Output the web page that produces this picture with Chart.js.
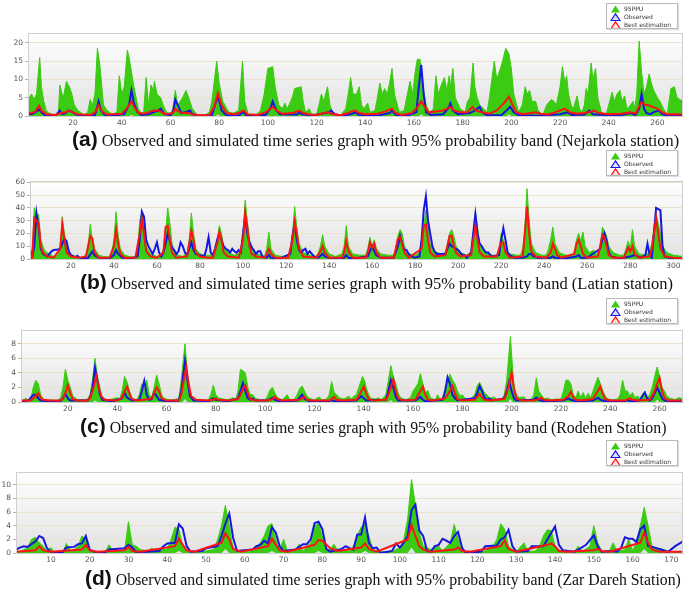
<!DOCTYPE html>
<html>
<head>
<meta charset="utf-8">
<script src="https://cdn.jsdelivr.net/npm/chart.js@4.4.0/dist/chart.umd.min.js"></script>
<style>
body{margin:0;background:#fff;width:685px;height:590px;position:relative;overflow:hidden}
canvas{position:absolute;left:0}
.cap{position:absolute;white-space:nowrap;line-height:22px;font-family:'Liberation Serif','Times New Roman',serif;font-size:16.4px;color:#111}
.cap b{font-family:'Liberation Sans',Arial,sans-serif;font-size:21px;margin-right:4px}
.leg{position:absolute;left:606px;width:72px;height:26px;border:1px solid #b8b8b8;background:#fff;font-family:'DejaVu Sans',sans-serif;font-size:6px;color:#333;padding:1px 3px;box-sizing:border-box;box-shadow:1px 1px 1px #ddd;white-space:nowrap;overflow:hidden}
.leg div{height:8px;line-height:8px;display:flex;align-items:center}
.leg svg{width:11px;height:8px;margin-right:3px;flex:none}
</style>
</head>
<body>
<canvas id="ca" width="685" height="100" style="top:30px"></canvas>
<canvas id="cb" width="685" height="95" style="top:178px"></canvas>
<canvas id="cc" width="685" height="89" style="top:327px"></canvas>
<canvas id="cd" width="685" height="98" style="top:469px"></canvas>
<script>
const seriesNames = ['95PPU', 'Observed', 'Best estimation'];
const captionText = 'Observed and simulated time series graph with 95% probability band';
const stations = ['(Nejarkola station)', '(Latian station)', '(Rodehen Station)', '(Zar Dareh Station)'];

// x tick labels
const aTicksX = [20,40,60,80,100,120,140,160,180,200,220,240,260];
const bTicksX = [20,40,60,80,100,120,140,160,180,200,220,240,260,280,300];
const cTicksX = [20,40,60,80,100,120,140,160,180,200,220,240,260];
const dTicksX = [10,20,30,40,50,60,70,80,90,100,110,120,130,140,150,160,170];
// y tick labels
const aTicksY = [0,5,10,15,20];
const bTicksY = [0,10,20,30,40,50,60];
const cTicksY = [0,2,4,6,8];
const dTicksY = [0,2,4,6,8,10];

// (a) Nejarkola: [time step, value]
const aUpper = [[1.5,1],[2,5],[3,6],[4,4.5],[5,6],[6.3,16],[7,8],[8,4],[9,1.5],[10,0.8],[12,0.3],[14,1],[14.6,8.5],[15.5,6],[16,5],[17.3,9.5],[18,8.5],[18.5,8],[19.5,6],[20.5,3],[22,1.5],[24.5,0.3],[26,1],[27,4.5],[28,3],[29,6],[30,18.5],[31,14],[32.5,3],[34,1.5],[36,0.5],[38,1],[39,11],[40,6],[41,8],[42.3,18],[43,16],[44,12],[45,8],[46.8,2],[48,0.8],[49,1],[50,10.5],[51,3],[52,8.5],[53,7],[53.4,9.5],[54.5,6],[56,5],[57,3],[58.4,1],[60,0.5],[61,2],[62,7],[63,3],[64,4],[65,5],[66.4,7],[67.5,5],[69,2],[71,0.3],[74,0.2],[76,1],[77,4],[79,15],[80,9],[81.5,4],[84,1],[86,0.8],[88,1.5],[89.6,15],[90.5,4],[92,0.3],[95,0.3],[97,1.5],[98.5,6],[100,13],[102,13.5],[103,8],[104.5,3],[106,2],[107,3.5],[108,2],[110,5],[111,7.5],[113.7,8],[114.5,4],[115.5,1],[117,2],[118,0.5],[120,0.5],[121,3],[122,6],[123,4],[124.5,8],[125.5,3],[127,0.3],[130,0.3],[132,2],[133,6],[134,10.5],[135,6],[136.5,6],[137.5,8],[138.5,3],[139.5,2],[141,3.5],[142,1],[144,1.5],[145,5],[146,9],[147,6],[148,7.5],[149,6],[150,9],[151,13],[152,6],[154,1],[156,1.5],[157,5],[158.4,9.5],[159.5,6],[160.5,12],[161.4,15.5],[162.5,15.5],[163.5,9],[165,3],[166.4,1],[168,2],[169,11],[170,6],[171,8],[172.5,10.5],[173.5,7],[174.5,11],[175,8],[176,13],[177,5],[179,2],[181,1],[182,4],[183,5],[184.3,14.5],[185,8],[186,5],[187,3],[188.7,2],[190,1],[191,5],[193,15],[194,10],[196,14],[197.7,18.5],[199,17],[200,13],[201,6],[203,1],[204.5,3],[205.7,8],[206.5,6],[207.5,7],[208.5,4],[210,4],[211,1.5],[213,0.3],[214.5,3],[216.4,4.5],[217.5,4],[218.5,3],[220,8],[221,13.5],[222,9],[222.7,11],[223.5,6],[224.5,3],[225.5,2],[227,5.5],[228,2],[229,1],[230,3],[230.7,7.5],[231.5,6],[232.8,14.5],[233.5,10],[234.6,13],[235.5,5],[237,1],[239,0.5],[240,3],[241.4,6.5],[242.3,4],[243.4,6],[244.6,7],[245.5,4],[246.5,5.5],[247.5,2],[249,3],[250,4],[250.7,2],[251.5,6],[252.5,20.5],[253.5,12],[254.5,6],[255.5,8],[256.6,11.5],[257.5,9],[258.5,7],[260,5],[261,4],[262.5,2],[264,0.3],[265,5],[265.5,7.5],[267,8],[268,5],[270.5,4]];
const aLower = [[1.5,0],[43,0],[44,0.3],[45,0],[78.5,0],[79.5,0.4],[80.5,0],[162,0],[163,0.4],[164,0],[198,0],[199,0.4],[200,0],[270.5,0]];
const aObs = [[1.5,0.6],[3,0.5],[4.5,1],[6,1.8],[7,1],[8.5,0.2],[13,0.1],[14.5,1.5],[15.5,0.5],[17,0.8],[18,1.5],[19.5,1.2],[21,0.5],[23,0.1],[29,0.2],[30.5,4],[31.5,1.5],[33,0.3],[36,0.1],[41,0.5],[43,3],[44,7],[45,3.5],[46.5,1],[48,0.3],[51,0.5],[53,1],[55,1.5],[56,2],[57.5,0.5],[60,0.2],[61,1],[62,4.5],[63,3],[64.5,0.8],[66,1],[68,1.5],[69,0.5],[71,0.1],[77,0.2],[79.5,5.5],[81,1.5],[83,0.2],[88,0.1],[90,1.2],[91,0.3],[99,0.3],[101,2],[102,4],[103.5,1.5],[105,0.5],[112,0.4],[113,1],[114,0.5],[118,0.1],[122,0.6],[125,1],[126,1.5],[127.5,0.5],[130,0.1],[134,0.5],[136,1],[137.5,0.3],[145,0.1],[150,0.8],[151,1.5],[152.5,0.3],[157,0.1],[161,1],[162,8],[163,14],[164,6],[165,1],[167,0.3],[172,0.5],[174,2],[175,3.5],[176,1.5],[178,0.5],[183,0.8],[185,1.5],[187,2.5],[188,1],[190,0.2],[196,0.3],[198,1.5],[199.5,2.5],[201,1],[203,0.2],[212,0.1],[220,0.5],[222,0.8],[223,1],[225,0.3],[230,0.4],[232,1.5],[233.5,0.5],[240,0.2],[245,0.3],[249,0.8],[251,0.3],[252.5,2],[253.5,6],[254.5,2],[255.5,0.8],[257,0.5],[259,1.2],[260.5,1.5],[262,0.5],[264,0.1],[268,0.2],[270.5,0.2]];
const aBest = [[1.5,0.9],[3,0.8],[4.5,1.2],[6,2.8],[7,1.5],[9,0.5],[13,0.3],[15,0.8],[17,1],[18,1.5],[20,1],[22,0.5],[27,0.3],[29,1],[30.5,3],[32,1.2],[34,0.4],[40,0.6],[42,2],[44,4],[45.5,2],[47,0.8],[49,0.6],[51,1],[53,1.5],[55,1.5],[56.5,1],[58,0.5],[61,0.8],[62,2],[63,1.3],[65,0.8],[67,0.9],[69,0.5],[72,0.2],[76,0.3],[78,2.5],[79.5,6.3],[81,3],[83,0.8],[86,0.5],[88,0.8],[90,1.5],[91.5,0.5],[96,0.3],[99,1],[101,2],[102,2.5],[103.5,1.5],[106,0.6],[110,0.8],[113,1.5],[114.5,0.8],[117,0.4],[120,0.3],[123,0.8],[125,1],[126,0.6],[130,0.2],[133,0.8],[134,1.2],[136,1.5],[137.5,0.8],[140,0.5],[145,0.6],[148,1.2],[151,2],[152.5,0.8],[155,0.3],[159,0.8],[161,2],[163,4],[164.5,2.5],[166,1],[169,1.2],[172,1.5],[175,2.5],[176.5,1.5],[179,1],[182,1],[184,2.5],[185.5,1.5],[188,1],[191,0.6],[194,1.5],[197,3.5],[199,5.3],[200.5,3],[202,1],[205,0.5],[208,0.8],[210,1],[212,0.6],[215,0.4],[218,1],[220,1.5],[222,2],[224,1],[227,0.6],[230,0.8],[233,1.2],[234,1.5],[236,0.8],[240,0.5],[245,0.6],[249,1],[251,0.7],[253.5,3.8],[255,3],[256,3],[258,2.5],[260,2],[262,1],[264,0.5],[268,0.5],[270.5,0.4]];

// (b) Latian
const bUpper = [[1,7],[2,3],[3,40],[4,30],[5,35],[6,15],[7,10],[8,6],[10,4],[12,2],[14,3],[15,8],[16,33],[17,20],[18,10],[20,4],[22,2],[25,1],[27,3],[28,10],[29,27],[30,15],[31,8],[33,3],[35,2],[38,1.5],[39,5],[40,15],[41,37],[42,18],[43,8],[45,3],[48,1.5],[50,2],[51,8],[52,30],[53,37],[54,25],[55,10],[57,4],[60,2],[62,3],[63,8],[64,20],[65,40],[66,28],[67,12],[68,6],[70,3],[72,2],[74,5],[75,15],[76,36],[77,20],[78,8],[80,4],[83,3],[86,3],[87,6],[88,15],[89,26],[90,20],[91,10],[93,5],[96,3],[99,5],[100,20],[101,46],[102,30],[103,15],[105,6],[108,3],[110,2],[111,8],[112,21],[113,8],[115,3],[118,2],[121,3],[122,8],[123,20],[124,41],[125,25],[126,12],[128,5],[131,3],[134,2],[135,5],[136,10],[137,19],[138,10],[140,4],[143,2],[146,4],[147,10],[148,26],[149,10],[151,4],[154,3],[157,3],[158,8],[159,17],[160,10],[161,15],[162,8],[164,4],[167,3],[170,3],[171,8],[172,18],[173,23],[174,20],[175,10],[177,4],[180,3],[182,5],[183,15],[184,25],[185,38],[186,25],[187,12],[189,6],[192,4],[194,5],[195,12],[196,20],[197,23],[198,18],[199,10],[201,5],[204,3],[206,6],[207,20],[208,37],[209,25],[210,12],[212,6],[215,3],[218,3],[219,8],[220,20],[221,15],[222,8],[224,4],[227,3],[229,3],[230,8],[231,25],[232,55],[233,30],[234,12],[236,5],[239,3],[241,3],[242,8],[243,15],[244,25],[245,12],[247,5],[250,3],[253,3],[254,6],[255,15],[256,20],[257,14],[258,21],[259,10],[261,5],[263,7],[264,3],[266,8],[267,25],[268,22],[269,18],[270,10],[272,5],[275,3],[277,3],[278,8],[279,14],[280,8],[281,23],[282,10],[284,4],[287,3],[289,6],[290,12],[291,25],[292,35],[293,28],[294,20],[295,10],[297,5],[300,3],[304.5,2]];
const bLower = [[1,0],[304.5,0]];
const bObs = [[1,8],[2,1],[3,10],[4,36],[5,25],[6,8],[7,4],[9,2],[10,4],[11,6],[12,7],[14,7.5],[15,8],[16,12],[17,16],[18,14],[19,6],[20,3],[22,1.5],[23,2.5],[24,1],[26,0.5],[28,1],[30,6],[31,3],[33,1],[38,0.5],[40,3],[41,7],[42,4],[44,1],[48,0.5],[51,2],[52,15],[53,37],[54,33],[55,15],[56,10],[58,4],[59,8],[60,13],[61,5],[62,2],[63,5],[64,12],[65,20],[66,14],[67,9],[68,7],[69,4],[70,6],[71,13],[72,10],[73,5],[74,3],[75,8],[76,13],[77,7],[78,4],[80,3],[82,2],[83,8],[84,17],[85,5],[86,3],[87,8],[88,15],[89,20],[90,15],[91,10],[92,8],[93,7],[94,5],[95,8],[96,6],[97,5],[98,7],[99,5],[100,20],[101,33],[102,20],[103,13],[104,9],[105,7],[106,4],[107,6],[108,6],[109,2],[111,1],[112,3],[113,1],[116,0.5],[118,1],[122,4],[123,18],[124,28],[125,15],[126,7],[127,5],[128,7],[129,8],[130,4],[131,6],[132,4],[133,2],[135,1],[137,4],[138,2],[140,1],[145,0.5],[147,1],[148,3],[149,1],[152,0.5],[158,2],[160,10],[161,6],[162,3],[164,1],[170,1],[172,10],[173,18],[174,12],[175,7],[176,7],[177,4],[178,2],[180,1],[182,2],[183,15],[184,38],[185,49],[186,30],[187,20],[188,10],[189,6],[190,4],[192,4],[194,4],[195,8],[196,12],[197,10],[198,9],[199,8],[200,7],[201,5],[202,3],[203,3],[204,1],[206,5],[207,20],[208,35],[209,20],[210,12],[211,10],[212,7],[213,5],[214,5],[215,3],[216,2],[219,3],[220,15],[221,24],[222,15],[223,5],[224,3],[226,1],[230,1],[232,2],[233,4],[234,4],[235,2],[237,1],[243,1],[244,2],[245,1],[250,0.5],[255,2],[256,3],[257,1],[260,1],[266,8],[267,15],[268,20],[269,14],[270,5],[271,2],[275,0.5],[280,2],[282,3],[285,1],[287,3],[288,12],[289,3],[290,1],[291,20],[292,40],[293,39],[294,38],[295,10],[296,2],[298,1],[304.5,0.5]];
const bBest = [[1,3],[2,1],[3,32],[4,30],[5,28],[6,10],[7,5],[9,2],[12,1],[15,8],[16,27],[17,15],[18,5],[20,2],[24,1],[27,2],[28,10],[29,18],[30,16],[31,5],[33,1],[38,1],[40,10],[41,23],[42,12],[43,4],[45,1],[50,1],[52,20],[53,31],[54,20],[55,6],[57,2],[60,1],[63,5],[64,25],[65,26],[66,15],[67,5],[69,1],[74,2],[75,12],[76,22],[77,15],[78,5],[80,2],[84,1],[86,1],[88,12],[89,21],[90,15],[91,5],[93,2],[98,1],[100,15],[101,36],[102,25],[103,10],[104,4],[106,2],[110,1],[111,4],[112,8],[113,4],[115,1],[121,1],[123,15],[124,29],[125,20],[126,8],[128,2],[134,1],[136,6],[137,10],[138,5],[140,1],[146,1],[147,5],[148,14],[149,6],[151,1],[157,1],[158,5],[159,13],[160,9],[161,12],[162,5],[164,1],[170,1],[171,8],[172,16],[173,17],[174,12],[175,5],[177,1],[183,8],[184,26],[185,27],[186,15],[187,5],[189,2],[194,3],[195,10],[196,18],[197,18],[198,10],[199,5],[201,2],[206,3],[207,15],[208,26],[209,15],[210,5],[212,2],[218,2],[219,8],[220,13],[221,13],[222,5],[224,1],[230,2],[231,20],[232,41],[233,20],[234,6],[236,2],[241,1],[243,5],[244,12],[245,8],[246,3],[248,1],[254,4],[255,12],[256,15],[257,10],[258,4],[260,1],[265,2],[266,10],[267,19],[268,17],[269,10],[270,3],[272,1],[277,1],[278,5],[279,9],[280,6],[281,10],[282,4],[284,1],[289,2],[290,8],[291,20],[292,32],[293,20],[294,8],[296,2],[300,1],[304.5,0.5]];

// (c) Rodehen
const cUpper = [[1,0.2],[2,0.3],[3,0.5],[4,0.2],[5,0.5],[6,2],[7,3],[8,2.5],[9,1],[10,0.4],[12,0.2],[14,0.3],[15,0.1],[17,0.5],[18,2],[19,4.5],[20,3],[21,2],[22,0.8],[24,0.3],[26,0.3],[28,0.4],[29,1],[30,3],[31,6],[32,3.5],[33,2],[34,0.6],[36,0.3],[38,0.4],[39,0.5],[40,0.6],[41,0.4],[42,1.5],[43,3.5],[44,2.8],[45,1.5],[46,0.5],[48,0.3],[49,1],[50,2.5],[51,1.5],[52,3],[53,1],[54,0.6],[55,2],[56,3.7],[57,2.5],[58,1],[59,0.5],[61,0.3],[63,0.3],[65,0.5],[66,3],[67.5,8],[68.5,4],[69,2],[70,1],[71,0.5],[73,0.3],[75,0.2],[77,0.3],[78,1],[79,2.3],[80,1],[81,0.6],[83,0.4],[85,0.3],[87,0.6],[88,0.3],[89,1.5],[90,4.5],[91,4.3],[92,4],[93,2],[94,1],[95,1],[96,0.5],[98,0.3],[100,0.3],[101,0.8],[102,1.7],[103,2],[104,1.2],[105,0.6],[107,0.3],[109,1],[110,0.3],[112,0.4],[113,1],[114,1.8],[115,2.2],[116,1.5],[117,0.8],[118,0.5],[120,0.3],[122,0.7],[123,0.3],[125,0.4],[126,1],[127,2.8],[128,1.3],[129,1],[130,0.6],[132,0.4],[134,0.8],[135,0.4],[136,0.8],[137,1],[138,2],[139.5,3.5],[140.5,2.8],[141,2],[142,1],[143,0.5],[145,0.4],[146,0.6],[147,0.3],[149,1],[150,3],[151,5],[152,3.5],[153,2.5],[154,1.2],[155,0.6],[157,0.3],[159,0.6],[160,1.5],[161,2],[162,2.5],[163,3.9],[164,2.5],[165,1.2],[166,1.6],[167,0.6],[169,0.3],[170,1],[171,0.3],[173,1],[174,3],[175,3.8],[176,3],[177,2.5],[178,1.5],[179,0.8],[180,1],[181,0.5],[183,0.3],[185,1],[186,2.2],[187,2.7],[188,2],[189,1.2],[190,1],[191,0.5],[193,0.7],[194,0.3],[196,0.3],[197,1],[198,3],[199.5,9],[200.5,4],[201,2],[202,1],[203,0.6],[205,0.7],[206,0.3],[208,0.4],[209,1],[210,3.3],[211,1.5],[212,1],[213,0.5],[215,0.5],[216,0.3],[218,0.4],[220,0.4],[221,1.5],[222,3],[223,3],[224,2.5],[225,1],[226,0.6],[227,1.5],[228,0.6],[229,1.3],[230,0.5],[231,1.2],[232,0.6],[233,1.5],[234,2.5],[235,3.4],[236,2.5],[237,1.5],[238,0.8],[239,0.4],[241,0.3],[243,0.4],[244,1],[245,3],[246,1.5],[247,1.5],[248,0.8],[249,1.3],[250,0.6],[251,0.8],[252,0.5],[253,1],[254,1.5],[255,0.6],[256,1],[257,2],[258,3.5],[259,4.8],[260,3.5],[261,2],[262,1.5],[263,0.8],[264,0.5],[265,0.5],[266,0.3],[268,0.6],[269.5,0.4]];
const cLower = [[1,0],[30,0],[31,0.2],[32,0],[66.5,0],[67.5,0.4],[68.5,0],[150,0],[151,0.25],[152,0],[198.5,0],[199.5,0.4],[200.5,0],[258,0],[259,0.3],[260,0],[269.5,0]];
const cObs = [[1,0.1],[4,0.2],[5,0.6],[6,1],[7,1],[8,0.5],[9,0.2],[12,0.1],[17,0.1],[18,0.5],[19,1.1],[20,0.5],[21,0.2],[28,0.2],[29,0.6],[30,2],[31,4.7],[32,3],[33,1],[34,0.3],[38,0.1],[42,0.5],[43,1.3],[44,0.6],[46,0.2],[49,0.3],[50,1.5],[51,2.9],[52,1],[53,0.3],[54,0.4],[55,1.3],[56,0.8],[57,0.3],[60,0.1],[65,0.2],[66,1.5],[67.5,5.6],[68.5,3],[69.5,0.8],[71,0.2],[77,0.1],[78,0.3],[79,0.5],[80,0.3],[85,0.1],[89,0.5],[90,1.5],[91,2.6],[92,1.5],[93,0.5],[94,0.3],[95,0.5],[96,0.2],[101,0.2],[103,0.6],[104,0.3],[106,0.1],[113,0.2],[114,0.6],[115,1],[116,0.4],[118,0.1],[126,0.1],[127,0.3],[128,0.1],[137,0.2],[138,0.5],[139,0.8],[140,0.5],[141,0.2],[149,0.3],[150,1.5],[151,3],[152,2],[153,0.7],[154,0.2],[161,0.2],[163,0.7],[164,0.3],[165,0.1],[172,0.3],[173,1.5],[174,3.4],[175,2.5],[176,1],[177,0.5],[178,0.2],[185,0.5],[186,1.2],[187,2.2],[188,1.5],[189,0.6],[190,0.3],[191,0.5],[192,0.2],[197,0.5],[198,1.5],[199,2.8],[200,1.5],[201,0.5],[202,0.2],[209,0.3],[210,0.6],[211,0.3],[213,0.1],[221,0.2],[223,0.5],[224,0.3],[226,0.1],[233,0.2],[235,0.6],[236,0.3],[238,0.1],[246,0.1],[247,0.3],[248,0.1],[252,0.2],[253,0.8],[254,1.3],[255,0.5],[256,0.2],[257,0.5],[258,1.2],[259,2],[260,1.3],[261,0.5],[262,0.2],[265,0.1],[269.5,0.1]];
const cBest = [[1,0.2],[5,0.2],[6,0.5],[7,0.8],[8,1.2],[9,0.6],[10,0.3],[13,0.2],[17,0.2],[18,0.5],[19,1.2],[20,2.3],[21,1.2],[22,0.4],[24,0.2],[28,0.2],[29,0.5],[30,1.5],[31.5,3.5],[32.5,2],[33.5,0.8],[35,0.3],[40,0.2],[42,0.6],[43,1.5],[44,2.1],[45,1.2],[46,0.4],[48,0.2],[51,0.3],[54,0.5],[55,1.3],[56,2],[57,1.5],[58,0.5],[60,0.2],[65,0.2],[66,1],[67,3],[68,4.8],[69,2.5],[70,0.8],[72,0.3],[77,0.2],[79,0.3],[80,0.5],[81,0.3],[85,0.2],[89,0.4],[90,1],[91,1.8],[92,2.3],[93,1.2],[94,0.4],[96,0.2],[101,0.2],[103,0.4],[104,0.7],[105,0.4],[107,0.2],[114,0.3],[116,0.7],[117,0.3],[119,0.2],[126,0.2],[127,0.4],[128,0.7],[129,0.3],[131,0.2],[137,0.3],[138,0.8],[139,1.5],[140,2.1],[141,1.2],[142,0.4],[144,0.2],[149,0.3],[150,1],[151,2],[152,3.1],[153,1.5],[154,0.5],[156,0.2],[161,0.3],[163,1.5],[164,2.1],[165,1],[166,0.3],[168,0.2],[173,0.5],[175,1.5],[176,2.2],[177,1.2],[178,0.4],[180,0.2],[185,0.3],[186,0.7],[187,1.1],[188,0.6],[189,0.3],[191,0.2],[197,0.4],[198,1.2],[199,2.5],[200,4],[201,1.8],[202,0.5],[204,0.2],[209,0.2],[211,0.4],[212,0.6],[213,0.3],[215,0.2],[221,0.3],[223,0.8],[224,1.4],[225,0.7],[226,0.3],[228,0.2],[233,0.4],[234,1],[235,1.5],[236,2.1],[237,1.1],[238,0.4],[240,0.2],[246,0.2],[247,0.4],[248,0.5],[249,0.3],[251,0.2],[256,0.3],[257,0.8],[258,1.5],[259,2.5],[260,3.3],[261,1.5],[262,0.5],[264,0.2],[269.5,0.2]];

// (d) Zar Dareh
const dUpper = [[1,0.3],[2,0.2],[3,0.5],[4,0.8],[5,2],[6,2.3],[7,1.5],[8,1],[9,0.3],[10,0.8],[11,0],[13,0],[14,1.4],[15,0.3],[16,0.5],[17,1],[18,2.5],[19,2],[20,0.5],[21,0.2],[24,0.2],[25,1.2],[26,0.3],[29,0.3],[30,4.6],[31,1.2],[32,1],[33,0.5],[35,0.3],[36,0.7],[37,0.3],[38,0.5],[40,0.5],[41,2],[42,3.8],[43,3.5],[44,1],[45,0.3],[48,0.2],[50,0.3],[52,0.5],[53,2],[54,4],[55,7],[56,4],[57,0.5],[59,0.2],[62,0.3],[64,1.5],[65,2.5],[66,4],[67,4.3],[68,2],[69,0.5],[70,2],[71,0.3],[73,0.3],[74,1.3],[75,0.3],[77,1.5],[78,4],[79,4.3],[80,2.5],[81,0.5],[82,0.5],[83,1.3],[84,0.3],[87,0.3],[88,1],[89,2.5],[90,3.8],[91,4.3],[92,2.5],[93,0.5],[95,0.2],[98,0.2],[100,0.8],[101,2],[102,5],[103,10.8],[104,7],[105,3],[106,1],[108,0.5],[110,1],[111,0.3],[113,1.5],[114,4.2],[115,2],[116,0.3],[119,0.2],[122,0.3],[124,1],[125,2],[126,4.3],[127,3.5],[128,1],[129,0.5],[130,0.2],[132,1.5],[133,0.2],[135,0.3],[136,1],[137,2.5],[138,3.4],[139,3.3],[140,1],[141,0.5],[142,0.2],[145,0.2],[146,1],[147,0.2],[149,1],[150,4],[151,1.5],[152,0.3],[154,0.3],[155,1.5],[156,0.2],[158,0.5],[159,2],[160,0.3],[161,1.5],[162,4],[163,6.7],[164,4],[165,1],[166,0.8],[168,0.5],[170,0.2],[173,0.2]];
const dLower = [[1,0],[42,0],[43,0.3],[44,0],[54,0],[55,0.6],[56,0],[66,0],[67,0.3],[68,0],[78,0],[79,0.3],[80,0],[90,0],[91,0.3],[92,0],[102,0],[103,0.8],[104,0],[162,0],[163,0.6],[164,0],[173,0]];
const dObs = [[1,0.5],[2,0.8],[3,1],[4,0.9],[5,1.3],[6,1.7],[7,2.5],[8,2.2],[9,0.7],[10,0.1],[13,0.1],[14,0.8],[16,0.9],[17,1.3],[18,1.4],[19,2.5],[20,0.5],[21,0.2],[24,0.1],[25,0.5],[29,0.7],[30,1.2],[31,0.8],[32,0.1],[38,0.3],[39,1],[40,1.4],[42,1.5],[43,4.2],[44,3.6],[45,1],[46,0.2],[49,0.3],[50,0.7],[53,1],[54,2.5],[55,4.3],[56,5.8],[57,2.2],[58,0.3],[62,0.5],[63,1],[64,1.2],[65,1.8],[66,1.4],[67,3.8],[68,3],[69,1],[70,0.3],[73,0.5],[75,1.3],[76,1.3],[77,2],[78,4.4],[79,4.6],[80,3.5],[81,0.6],[82,0.2],[85,0.6],[86,1],[87,0.7],[88,0.5],[89,2.7],[90,2.7],[91,5.2],[92,1.5],[93,0.7],[94,0.8],[95,0],[98,0.3],[99,1.4],[100,0.8],[101,1.5],[102,2.5],[103,6.3],[104,7.1],[105,3.3],[106,2.5],[107,0.3],[108,0.2],[109,1],[110,1.2],[111,2.1],[112,1.8],[113,1.5],[114,2.5],[115,3.1],[116,0.8],[117,0],[121,0.2],[122,1],[125,1.1],[126,2],[127,2.3],[128,3.4],[129,1],[130,0.2],[133,0.3],[134,1],[137,1],[140,3.9],[141,1.2],[142,0.4],[145,0.2],[146,0.5],[148,1.2],[150,2.6],[151,1],[152,0.2],[155,0.3],[156,0.2],[157,0.7],[158,2.3],[159,2.1],[160,2.1],[161,1.6],[162,3.5],[163,4],[164,1],[165,0.9],[168,0.4],[169,0.1],[171,1],[173,1.7]];
const dBest = [[1,0.2],[6,0.4],[7,1],[8,0.4],[10,0.2],[18,0.5],[19,1.2],[20,0.4],[22,0.2],[29,0.4],[30,0.9],[31,0.3],[33,0.2],[42,1],[43,2.1],[44,1.2],[45,0.4],[47,0.2],[54,1.5],[55,2.9],[56,2],[57,0.6],[59,0.2],[66,1],[67,2.1],[68,1.2],[69,0.4],[71,0.2],[78,1.2],[79,1.9],[80,1.8],[82,0.7],[84,0.3],[90,0.8],[91,1.4],[92,0.6],[94,0.2],[102,2],[103,4.1],[104,2.5],[105,1],[106,0.5],[108,0.2],[114,0.5],[115,0.8],[116,0.3],[118,0.2],[126,1],[127,1.8],[128,0.6],[130,0.2],[138,1.2],[139,1.4],[140,1],[141,0.3],[143,0.2],[150,0.4],[151,0.6],[152,0.3],[154,0.2],[162,1.5],[163,3],[164,1.5],[165,0.5],[167,0.2],[173,0.2]];

const panels = [
  {canvas: 'ca', legTop: 3,   capTop: 128, capLeft: 72, capSize: 16.3, yW: 28, xMin: 1.5, xMax: 270.5, yMax: 22.7, xTicks: aTicksX, yTicks: aTicksY, upper: aUpper, lower: aLower, obs: aObs, best: aBest},
  {canvas: 'cb', legTop: 150, capTop: 271, capLeft: 80, capSize: 16.5, yW: 30, xMin: 1,   xMax: 304.5, yMax: 61,   xTicks: bTicksX, yTicks: bTicksY, upper: bUpper, lower: bLower, obs: bObs, best: bBest},
  {canvas: 'cc', legTop: 298, capTop: 415, capLeft: 80, capSize: 15.8, yW: 21, xMin: 1,   xMax: 269.5, yMax: 9.9,  xTicks: cTicksX, yTicks: cTicksY, upper: cUpper, lower: cLower, obs: cObs, best: cBest},
  {canvas: 'cd', legTop: 440, capTop: 567, capLeft: 85, capSize: 15.8, yW: 16, xMin: 1,   xMax: 173,   yMax: 11.9, xTicks: dTicksX, yTicks: dTicksY, upper: dUpper, lower: dLower, obs: dObs, best: dBest}
];

const GREEN = '#3acb12', BLUE = '#1616e0', RED = '#ff1212';

const plotBg = {
  id: 'plotBg',
  beforeDraw(chart) {
    const {ctx, chartArea: a} = chart;
    const g = ctx.createLinearGradient(0, a.top, 0, a.bottom);
    g.addColorStop(0, '#ffffff');
    g.addColorStop(1, '#e2e2e2');
    ctx.save();
    ctx.fillStyle = g;
    ctx.fillRect(a.left, a.top, a.right - a.left, a.bottom - a.top);
    ctx.restore();
  },
  afterDraw(chart) {
    const {ctx, chartArea: a} = chart;
    ctx.save();
    ctx.strokeStyle = '#cfcfcf';
    ctx.lineWidth = 1;
    ctx.strokeRect(a.left + 0.5, a.top + 0.5, a.right - a.left - 1, a.bottom - a.top);
    ctx.restore();
  }
};

const pts = arr => arr.map(p => ({x: p[0], y: p[1]}));

const icon = [
  '<svg viewBox="0 0 11 8"><polygon points="1,7.5 5.5,0.5 10,7.5" fill="' + GREEN + '"/></svg>',
  '<svg viewBox="0 0 11 8"><polygon points="1,7.5 5.5,0.8 10,7.5" fill="#dde0ff" stroke="' + BLUE + '" stroke-width="1.2"/></svg>',
  '<svg viewBox="0 0 11 8"><polygon points="1,7.5 5.5,0.8 10,7.5" fill="#ffe0e0" stroke="' + RED + '" stroke-width="1.2"/></svg>'
];

panels.forEach((p, i) => {
  // legend
  const leg = document.createElement('div');
  leg.className = 'leg';
  leg.style.top = p.legTop + 'px';
  leg.innerHTML = seriesNames.map((n, k) => '<div>' + icon[k] + '<span>' + n + '</span></div>').join('');
  document.body.appendChild(leg);
  // caption
  const cap = document.createElement('div');
  cap.className = 'cap';
  cap.style.top = p.capTop + 'px';
  cap.style.left = p.capLeft + 'px';
  cap.style.fontSize = p.capSize + 'px';
  cap.innerHTML = '<b>(' + 'abcd'[i] + ')</b>' + captionText + ' ' + stations[i];
  document.body.appendChild(cap);

  const tickFont = {family: 'DejaVu Sans', size: 7.5};
  new Chart(document.getElementById(p.canvas), {
    type: 'line',
    data: {
      datasets: [
        {label: seriesNames[0], data: pts(p.upper), borderColor: GREEN, backgroundColor: GREEN, borderWidth: 1, fill: '+1', order: 3},
        {label: 'lower', data: pts(p.lower), borderColor: 'rgba(0,0,0,0)', borderWidth: 0, fill: false, order: 4},
        {label: seriesNames[1], data: pts(p.obs), borderColor: BLUE, borderWidth: 2, fill: false, order: 2},
        {label: seriesNames[2], data: pts(p.best), borderColor: RED, borderWidth: 2, fill: false, order: 1}
      ]
    },
    options: {
      responsive: false,
      animation: false,
      layout: {padding: {top: 3, right: 2, left: 0, bottom: 0}},
      plugins: {legend: {display: false}, tooltip: {enabled: false}},
      elements: {point: {radius: 0}, line: {tension: 0}},
      scales: {
        x: {
          type: 'linear', min: p.xMin, max: p.xMax,
          grid: {display: false, drawTicks: false},
          border: {color: '#c8c8c8'},
          ticks: {font: tickFont, color: '#555', maxRotation: 0, autoSkip: false, padding: 3},
          afterBuildTicks: ax => { ax.ticks = p.xTicks.map(v => ({value: v})); },
          afterFit: ax => { ax.height = 14; ax.paddingLeft = 0; ax.paddingRight = 0; }
        },
        y: {
          min: 0, max: p.yMax,
          grid: {color: '#ece2cc', tickColor: '#c4b68a', tickLength: 3},
          border: {color: '#c4b68a'},
          ticks: {font: tickFont, color: '#555', padding: 2},
          afterBuildTicks: ax => { ax.ticks = p.yTicks.map(v => ({value: v})); },
          afterFit: ax => { ax.width = p.yW; ax.paddingTop = 0; ax.paddingBottom = 0; }
        }
      }
    },
    plugins: [plotBg]
  });
});
</script>
</body>
</html>
